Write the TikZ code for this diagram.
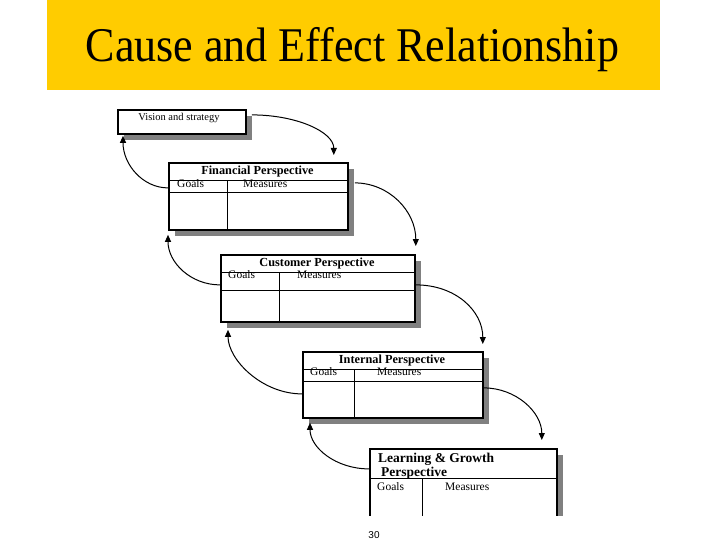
\documentclass[tikz,border=0pt]{standalone}
\usepackage{fontspec}
\setmainfont{Liberation Serif}
\newfontfamily\numfont{Liberation Sans}
\usetikzlibrary{arrows.meta,shadows}
\definecolor{titley}{RGB}{255,204,0}
\definecolor{shgray}{RGB}{128,128,128}
\tikzset{
  pbox/.style={draw, line width=1.8pt, fill=white, inner sep=0, anchor=north west,
    drop shadow={shadow xshift=6pt, shadow yshift=-6pt, fill=shgray, opacity=1}},
  rule/.style={line width=1pt},
  conn/.style={line width=1pt, -{Triangle[length=7pt,width=6pt]}},
  head/.style={font=\bfseries\fontsize{12.3}{14}\selectfont, inner sep=0},
  col/.style={font=\fontsize{11.5}{13}\selectfont, inner sep=0, anchor=west},
}
\begin{document}
\begin{tikzpicture}[x=1pt,y=-1pt]
\useasboundingbox (0,0) rectangle (720,540);
% title bar
\node[fill=titley, minimum width=613pt, minimum height=90pt, anchor=north west, inner sep=0] (bar) at (47,0) {};
\node[font=\fontsize{44}{50}\selectfont, anchor=base, inner sep=0, yscale=1.1] (title) at (352.5,62) {Cause and Effect Relationship};

% boxes
\node[pbox, minimum width=128pt, minimum height=24pt] (vis) at (117,109) {};
\node[font=\fontsize{10.5}{12}\selectfont, inner sep=0] (vist) at (179,118) {Vision and strategy};

\node[pbox, minimum width=179pt, minimum height=67pt] (fin) at (168,162) {};
\draw[rule] ([yshift=-19pt]fin.north west) -- ([yshift=-19pt]fin.north east);
\draw[rule] ([yshift=-31pt]fin.north west) -- ([yshift=-31pt]fin.north east);
\draw[rule] ([shift={(59,19)}]fin.north west) -- ([xshift=59pt]fin.south west);
\node[head] (fint) at (257.5,172) {Financial Perspective};
\node[col] (fing) at (177,184) {Goals};
\node[col] (finm) at (243,184) {Measures};

\node[pbox, minimum width=194pt, minimum height=67pt] (cus) at (220,254) {};
\draw[rule] ([yshift=-18pt]cus.north west) -- ([yshift=-18pt]cus.north east);
\draw[rule] ([yshift=-36pt]cus.north west) -- ([yshift=-36pt]cus.north east);
\draw[rule] ([shift={(59,18)}]cus.north west) -- ([xshift=59pt]cus.south west);
\node[head] (cust) at (317,264) {Customer Perspective};
\node[col] (cusg) at (228,275) {Goals};
\node[col] (cusm) at (297,275) {Measures};

\node[pbox, minimum width=180pt, minimum height=66pt] (int) at (302,351) {};
\draw[rule] ([yshift=-18pt]int.north west) -- ([yshift=-18pt]int.north east);
\draw[rule] ([yshift=-30pt]int.north west) -- ([yshift=-30pt]int.north east);
\draw[rule] ([shift={(52,18)}]int.north west) -- ([xshift=52pt]int.south west);
\node[head] (intt) at (392,361) {Internal Perspective};
\node[col] (intg) at (310,372) {Goals};
\node[col] (intm) at (377,372) {Measures};

\begin{scope}
\clip (0,0) rectangle (720,515);
\node[pbox, minimum width=187pt, minimum height=80pt] (lea) at (369,448) {};
\draw[rule] ([yshift=-30pt]lea.north west) -- ([yshift=-30pt]lea.north east);
\draw[rule] ([shift={(53,30)}]lea.north west) -- ([xshift=53pt]lea.south west);
\end{scope}
\node[font=\bfseries\fontsize{13.5}{15}\selectfont, inner sep=0, anchor=west] (leat1) at (378,459) {Learning \& Growth};
\node[font=\bfseries\fontsize{13.5}{15}\selectfont, inner sep=0, anchor=west] (leat2) at (381,473) {Perspective};
\node[col] (leag) at (377,487) {Goals};
\node[col] (leam) at (445,487) {Measures};

% connectors
\draw[conn] ([shift={(5,-7)}]vis.east) .. controls +(45,0) and +(0,-23) .. ([shift={(-15,-7)}]fin.north east);
\draw[conn] ([shift={(0,-8.5)}]fin.west) .. controls +(-25,0) and +(0,29) .. ([shift={(6,1)}]vis.south west);
\draw[conn] ([shift={(6,-13.5)}]fin.east) .. controls +(34,0) and +(0,-35) .. ([shift={(0,-8)}]cus.north east);
\draw[conn] ([shift={(0,-3.5)}]cus.west) .. controls +(-29,0) and +(0,28) .. ([shift={(0,4)}]fin.south west);
\draw[conn] ([shift={(0,-3.5)}]cus.east) .. controls +(40,0) and +(0,-33) .. ([shift={(-1,-7)}]int.north east);
\draw[conn] ([shift={(0,9)}]int.west) .. controls +(-40,0) and +(0,30) .. ([shift={(8,7)}]cus.south west);
\draw[conn] ([shift={(0,3)}]int.east) .. controls +(32,0) and +(0,-28) .. ([shift={(-16,-8)}]lea.north east);
\draw[conn] ([shift={(0,-20)}]lea.west) .. controls +(-33,0) and +(0,25) .. ([shift={(8,4)}]int.south west);

\node[font=\numfont\fontsize{10}{12}\selectfont, inner sep=0] (num) at (374,535) {30};
\end{tikzpicture}
\end{document}
